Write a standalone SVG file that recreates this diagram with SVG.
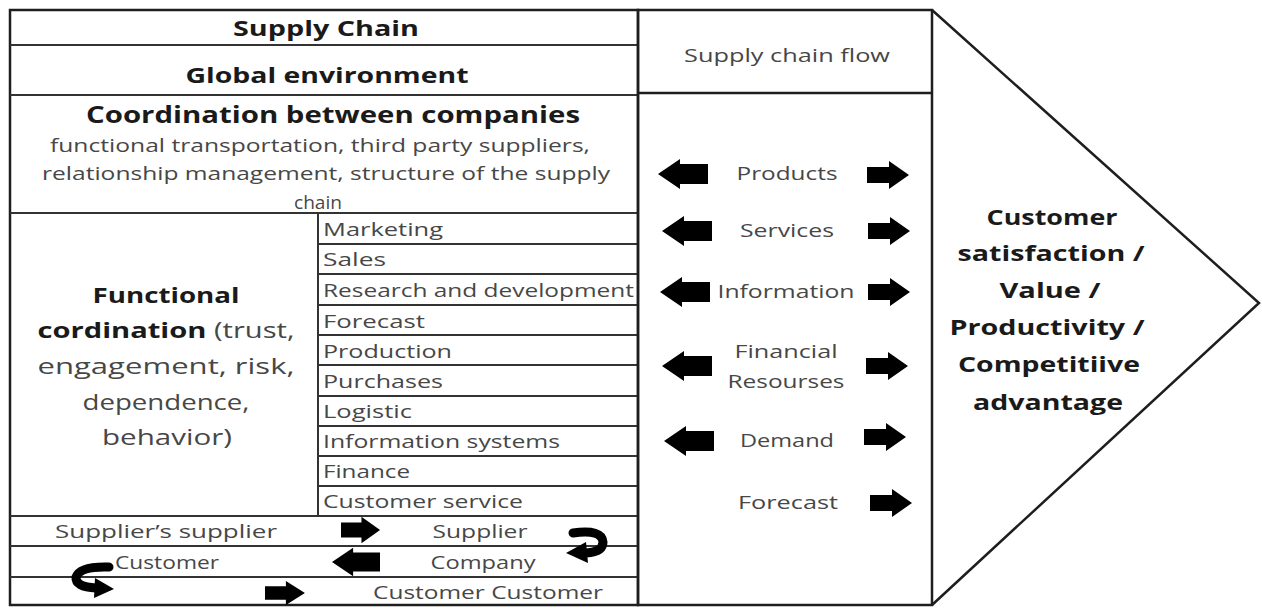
<svg xmlns="http://www.w3.org/2000/svg" width="1262" height="608" viewBox="0 0 1262 608">
  <style>
    text { font-family: "Open Sans", "Liberation Sans", sans-serif; }
    .h { font-weight: bold; fill: #1a1a1a; text-anchor: middle; }
    .t { fill: #474747; font-size: 18.5px; }
    .c { text-anchor: middle; }
    .frame { fill: none; stroke: #1e1e1e; stroke-width: 2.5; }
    .rule { fill: none; stroke: #333; stroke-width: 2; }
    .arr { fill: #000; }
    .curl { fill: none; stroke: #000; stroke-width: 9; stroke-linecap: round; }
  </style>
  <defs>
    <path id="arrowR" d="M0,-8 H22 V-14 L42,0 L22,14 V8 H0 Z"/>
    <path id="arrowL" d="M0,0 L22,-15 V-10 H50 V10 H22 V15 Z"/>
  </defs>
  <rect width="1262" height="608" fill="#fff"/>

  <!-- left panel -->
  <g id="supply-chain">
    <rect class="frame" x="10" y="10" width="628" height="595"/>
    <text class="h" x="326" y="36" font-size="21" textLength="186" lengthAdjust="spacingAndGlyphs">Supply Chain</text>
  </g>
  <g id="global-environment">
    <line class="rule" x1="10" y1="45" x2="638" y2="45"/>
    <text class="h" x="327" y="83" font-size="22" textLength="283" lengthAdjust="spacingAndGlyphs">Global environment</text>
  </g>
  <g id="coordination">
    <line class="rule" x1="10" y1="95" x2="638" y2="95"/>
    <text class="h" x="333" y="123" font-size="23" textLength="494" lengthAdjust="spacingAndGlyphs">Coordination between companies</text>
    <text class="t c" x="320" y="152" textLength="540" lengthAdjust="spacingAndGlyphs">functional transportation, third party suppliers,</text>
    <text class="t c" x="326" y="180" textLength="568" lengthAdjust="spacingAndGlyphs">relationship management, structure of the supply</text>
    <text class="t c" x="318" y="209" textLength="48" lengthAdjust="spacingAndGlyphs">chain</text>
  </g>
  <g id="functional-coordination">
    <line class="rule" x1="10" y1="213" x2="638" y2="213"/>
    <line class="rule" x1="318" y1="213" x2="318" y2="516"/>
    <text class="h" x="166" y="303" font-size="22" textLength="147" lengthAdjust="spacingAndGlyphs">Functional</text>
    <text x="166" y="338" font-size="22" text-anchor="middle" textLength="257" lengthAdjust="spacingAndGlyphs"><tspan font-weight="bold" fill="#1a1a1a">cordination</tspan><tspan fill="#474747"> (trust,</tspan></text>
    <text class="c" x="166" y="374" font-size="22" fill="#474747" textLength="257" lengthAdjust="spacingAndGlyphs">engagement, risk,</text>
    <text class="c" x="166" y="410" font-size="22" fill="#474747" textLength="167" lengthAdjust="spacingAndGlyphs">dependence,</text>
    <text class="c" x="167" y="445" font-size="22" fill="#474747" textLength="130" lengthAdjust="spacingAndGlyphs">behavior)</text>
  </g>
  <g id="functions">
    <line class="rule" x1="318" y1="244" x2="638" y2="244"/>
    <line class="rule" x1="318" y1="274" x2="638" y2="274"/>
    <line class="rule" x1="318" y1="305" x2="638" y2="305"/>
    <line class="rule" x1="318" y1="335" x2="638" y2="335"/>
    <line class="rule" x1="318" y1="365" x2="638" y2="365"/>
    <line class="rule" x1="318" y1="396" x2="638" y2="396"/>
    <line class="rule" x1="318" y1="426" x2="638" y2="426"/>
    <line class="rule" x1="318" y1="456" x2="638" y2="456"/>
    <line class="rule" x1="318" y1="486" x2="638" y2="486"/>
    <text class="t" x="323" y="236" textLength="120" lengthAdjust="spacingAndGlyphs">Marketing</text>
    <text class="t" x="323" y="266" textLength="63" lengthAdjust="spacingAndGlyphs">Sales</text>
    <text class="t" x="323" y="297" textLength="311" lengthAdjust="spacingAndGlyphs">Research and development</text>
    <text class="t" x="323" y="328" textLength="102" lengthAdjust="spacingAndGlyphs">Forecast</text>
    <text class="t" x="323" y="358" textLength="129" lengthAdjust="spacingAndGlyphs">Production</text>
    <text class="t" x="323" y="388" textLength="120" lengthAdjust="spacingAndGlyphs">Purchases</text>
    <text class="t" x="323" y="418" textLength="89" lengthAdjust="spacingAndGlyphs">Logistic</text>
    <text class="t" x="323" y="448" textLength="237" lengthAdjust="spacingAndGlyphs">Information systems</text>
    <text class="t" x="323" y="478" textLength="87" lengthAdjust="spacingAndGlyphs">Finance</text>
    <text class="t" x="323" y="508" textLength="200" lengthAdjust="spacingAndGlyphs">Customer service</text>
  </g>
  <g id="chain-rows">
    <line class="rule" x1="10" y1="516" x2="638" y2="516"/>
    <line class="rule" x1="10" y1="546" x2="638" y2="546"/>
    <line class="rule" x1="10" y1="577" x2="638" y2="577"/>
    <text class="t c" x="166" y="538" textLength="222" lengthAdjust="spacingAndGlyphs">Supplier’s supplier</text>
    <text class="t c" x="480" y="538" textLength="95" lengthAdjust="spacingAndGlyphs">Supplier</text>
    <text class="t c" x="167" y="569" textLength="104" lengthAdjust="spacingAndGlyphs">Customer</text>
    <text class="t c" x="483" y="569" textLength="105" lengthAdjust="spacingAndGlyphs">Company</text>
    <text class="t c" x="488" y="599" textLength="230" lengthAdjust="spacingAndGlyphs">Customer Customer</text>
  </g>

  <!-- middle panel -->
  <g id="flow-header">
    <rect class="frame" x="638" y="10" width="294" height="595"/>
    <line class="frame" x1="638" y1="93" x2="932" y2="93"/>
    <text class="t c" x="787" y="62" textLength="206" lengthAdjust="spacingAndGlyphs">Supply chain flow</text>
  </g>
  <g id="flows">
    <text class="t c" x="787" y="180" textLength="101" lengthAdjust="spacingAndGlyphs">Products</text>
    <text class="t c" x="787" y="237" textLength="94" lengthAdjust="spacingAndGlyphs">Services</text>
    <text class="t c" x="786" y="298" textLength="137" lengthAdjust="spacingAndGlyphs">Information</text>
    <text class="t c" x="786" y="358" textLength="103" lengthAdjust="spacingAndGlyphs">Financial</text>
    <text class="t c" x="786" y="388" textLength="117" lengthAdjust="spacingAndGlyphs">Resourses</text>
    <text class="t c" x="787" y="447" textLength="94" lengthAdjust="spacingAndGlyphs">Demand</text>
    <text class="t c" x="788" y="509" textLength="100" lengthAdjust="spacingAndGlyphs">Forecast</text>
  </g>

  <!-- right outcome -->
  <g id="outcome">
    <polyline class="frame" points="932,10 1259,303 932,605"/>
    <text class="h" x="1052" y="225" font-size="22" textLength="131" lengthAdjust="spacingAndGlyphs">Customer</text>
    <text class="h" x="1051" y="261" font-size="22" textLength="187" lengthAdjust="spacingAndGlyphs">satisfaction /</text>
    <text class="h" x="1050" y="298" font-size="22" textLength="101" lengthAdjust="spacingAndGlyphs">Value /</text>
    <text class="h" x="1047" y="335" font-size="22" textLength="195" lengthAdjust="spacingAndGlyphs">Productivity /</text>
    <text class="h" x="1049" y="372" font-size="22" textLength="182" lengthAdjust="spacingAndGlyphs">Competitiive</text>
    <text class="h" x="1048" y="410" font-size="22" textLength="150" lengthAdjust="spacingAndGlyphs">advantage</text>
  </g>

  <!-- connectors -->
  <g id="connectors">
    <use href="#arrowL" class="arr" transform="translate(658,174)"/>
    <use href="#arrowR" class="arr" transform="translate(867,175)"/>
    <use href="#arrowL" class="arr" transform="translate(662,231)"/>
    <use href="#arrowR" class="arr" transform="translate(868,231)"/>
    <use href="#arrowL" class="arr" transform="translate(660,292)"/>
    <use href="#arrowR" class="arr" transform="translate(868,292)"/>
    <use href="#arrowL" class="arr" transform="translate(662,366)"/>
    <use href="#arrowR" class="arr" transform="translate(866,366)"/>
    <use href="#arrowL" class="arr" transform="translate(664,441)"/>
    <use href="#arrowR" class="arr" transform="translate(864,437)"/>
    <use href="#arrowR" class="arr" transform="translate(870,503)"/>

    <use href="#arrowR" class="arr" transform="translate(341,530) scale(0.93,0.95)"/>
    <use href="#arrowL" class="arr" transform="translate(332,562) scale(0.96,0.95)"/>
    <use href="#arrowR" class="arr" transform="translate(265,593) scale(0.95,0.85)"/>

    <path class="curl" d="M573,533 Q602,529 603,542 Q603,552 586,553"/>
    <path class="arr" d="M566,553 L586,542 L588,563 Z"/>
    <path class="curl" d="M109,567 Q80,566 76,577 Q75,587 96,588"/>
    <path class="arr" d="M114,589 L95,578 L94,598 Z"/>
  </g>
</svg>
